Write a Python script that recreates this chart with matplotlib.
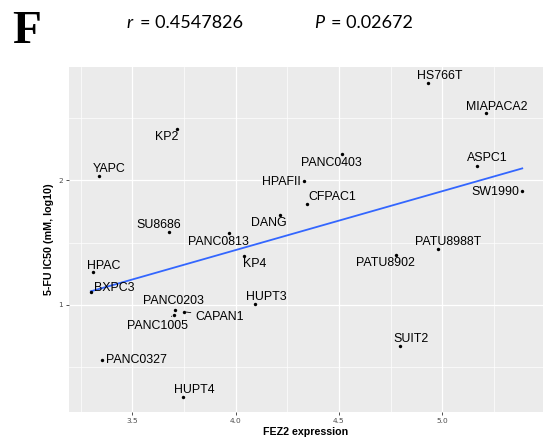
import numpy as np
import matplotlib

matplotlib.use("Agg")
import matplotlib.pyplot as plt
from matplotlib.ticker import MultipleLocator

# ---- data (FEZ2 expression vs 5-FU IC50) ----
cell_lines = [
    "HS766T", "MIAPACA2", "ASPC1", "SW1990", "PANC0403", "HPAFII", "CFPAC1",
    "KP2", "YAPC", "DANG", "SU8686", "PANC0813", "KP4", "HPAC", "BXPC3",
    "HUPT3", "PANC0203", "PANC1005", "CAPAN1", "PANC0327", "HUPT4",
    "PATU8988T", "PATU8902", "SUIT2",
]
fez2 = [
    4.931, 5.210, 5.168, 5.387, 4.516, 4.331, 4.344,
    3.718, 3.339, 4.215, 3.678, 3.966, 4.039, 3.310, 3.300,
    4.095, 3.707, 3.700, 3.752, 3.353, 3.747,
    4.977, 4.776, 4.795,
]
ic50 = [
    2.776, 2.534, 2.114, 1.912, 2.206, 1.995, 1.806,
    2.410, 2.032, 1.720, 1.584, 1.576, 1.394, 1.262, 1.106,
    1.005, 0.960, 0.920, 0.946, 0.560, 0.262,
    1.448, 1.400, 0.670,
]
r_text = "0.4547826"
p_text = "0.02672"

# label offsets (points) from each dot, ggrepel-like placement
label_offsets = {
    "HS766T": (8.3, 5.3), "MIAPACA2": (7.8, 4.8), "ASPC1": (7.2, 5.3),
    "SW1990": (-19.7, -0.5), "PANC0403": (-7.8, -6.0), "HPAFII": (-16.2, -0.9),
    "CFPAC1": (18.2, 5.5), "KP2": (-7.4, -5.8), "YAPC": (7.6, 5.3),
    "DANG": (-7.7, -6.0), "SU8686": (-7.6, 5.3), "PANC0813": (-7.3, -6.3),
    "KP4": (7.6, -6.2), "HPAC": (7.8, 4.8), "BXPC3": (17.1, 2.4),
    "HUPT3": (7.7, 5.5), "PANC0203": (-1.4, 6.5), "PANC1005": (-11.8, -7.9),
    "CAPAN1": (25.2, -3.6), "PANC0327": (24.8, -0.2), "HUPT4": (7.7, 5.3),
    "PATU8988T": (7.6, 5.3), "PATU8902": (-7.9, -6.0), "SUIT2": (7.7, 5.5),
}
with_segment = {"PANC1005", "CAPAN1"}

BG = "#EBEBEB"
TICK = "#4D4D4D"


def main():
    x = np.array(fez2)
    y = np.array(ic50)

    fig = plt.figure(figsize=(5.44, 4.41), dpi=100)
    ax = fig.add_axes([0.1268, 0.0658, 0.8712, 0.7822])
    ax.set_facecolor(BG)
    for s in ax.spines.values():
        s.set_visible(False)

    ax.set_xlim(3.194, 5.487)
    ax.set_ylim(0.144, 2.904)
    ax.xaxis.set_major_locator(MultipleLocator(0.5))
    ax.xaxis.set_minor_locator(MultipleLocator(0.25))
    ax.yaxis.set_major_locator(MultipleLocator(1))
    ax.yaxis.set_minor_locator(MultipleLocator(0.5))
    ax.grid(True, which="major", color="white", lw=0.9)
    ax.grid(True, which="minor", color="white", lw=0.5)
    ax.set_axisbelow(True)
    ax.tick_params(which="major", length=2.5, width=0.6, color="#333333",
                   labelsize=5.3, labelcolor=TICK, pad=2)
    ax.tick_params(which="minor", length=0)

    # linear fit, drawn over the data range (geom_smooth(method="lm", se=F))
    slope, icpt = np.polyfit(x, y, 1)
    xl = np.array([x.min(), x.max()])
    ax.plot(xl, icpt + slope * xl, color="#3366FF", lw=1.3, zorder=2)

    ax.scatter(x, y, s=6, color="black", zorder=3, linewidths=0)

    for name, xi, yi in zip(cell_lines, x, y):
        dx, dy = label_offsets[name]
        arrow = None
        if name in with_segment:
            arrow = dict(arrowstyle="-", color="black", lw=0.6,
                         shrinkA=1, shrinkB=1.5)
        ax.annotate(name, (xi, yi), xytext=(dx, dy), textcoords="offset points",
                    ha="center", va="center", fontsize=8.9,
                    family="Liberation Sans", arrowprops=arrow, zorder=4)

    ax.set_xlabel("FEZ2 expression", fontsize=7.7, fontweight="bold",
                  family="Liberation Sans", labelpad=2)
    ax.set_ylabel("5-FU IC50 (mM, log10)", fontsize=7.7, fontweight="bold",
                  family="Liberation Sans", labelpad=3)

    # panel letter and statistics header
    W, H = 544.0, 441.0
    fig.text(12.0 / W, 1 - 43.3 / H, "F", fontsize=34, fontweight="bold",
             family="Liberation Serif", va="baseline", ha="left")
    fig.text(126.0 / W, 1 - 28.3 / H, "r", fontsize=13, style="italic",
             family="Lato", va="baseline", ha="left")
    fig.text(139.5 / W, 1 - 28.3 / H, "= " + r_text, fontsize=13,
             family="Lato", va="baseline", ha="left")
    fig.text(314.0 / W, 1 - 28.3 / H, "P", fontsize=13, style="italic",
             family="Lato", va="baseline", ha="left")
    fig.text(331.0 / W, 1 - 28.3 / H, "= " + p_text, fontsize=13,
             family="Lato", va="baseline", ha="left")

    fig.savefig("out.png", dpi=100)


if __name__ == "__main__":
    main()
